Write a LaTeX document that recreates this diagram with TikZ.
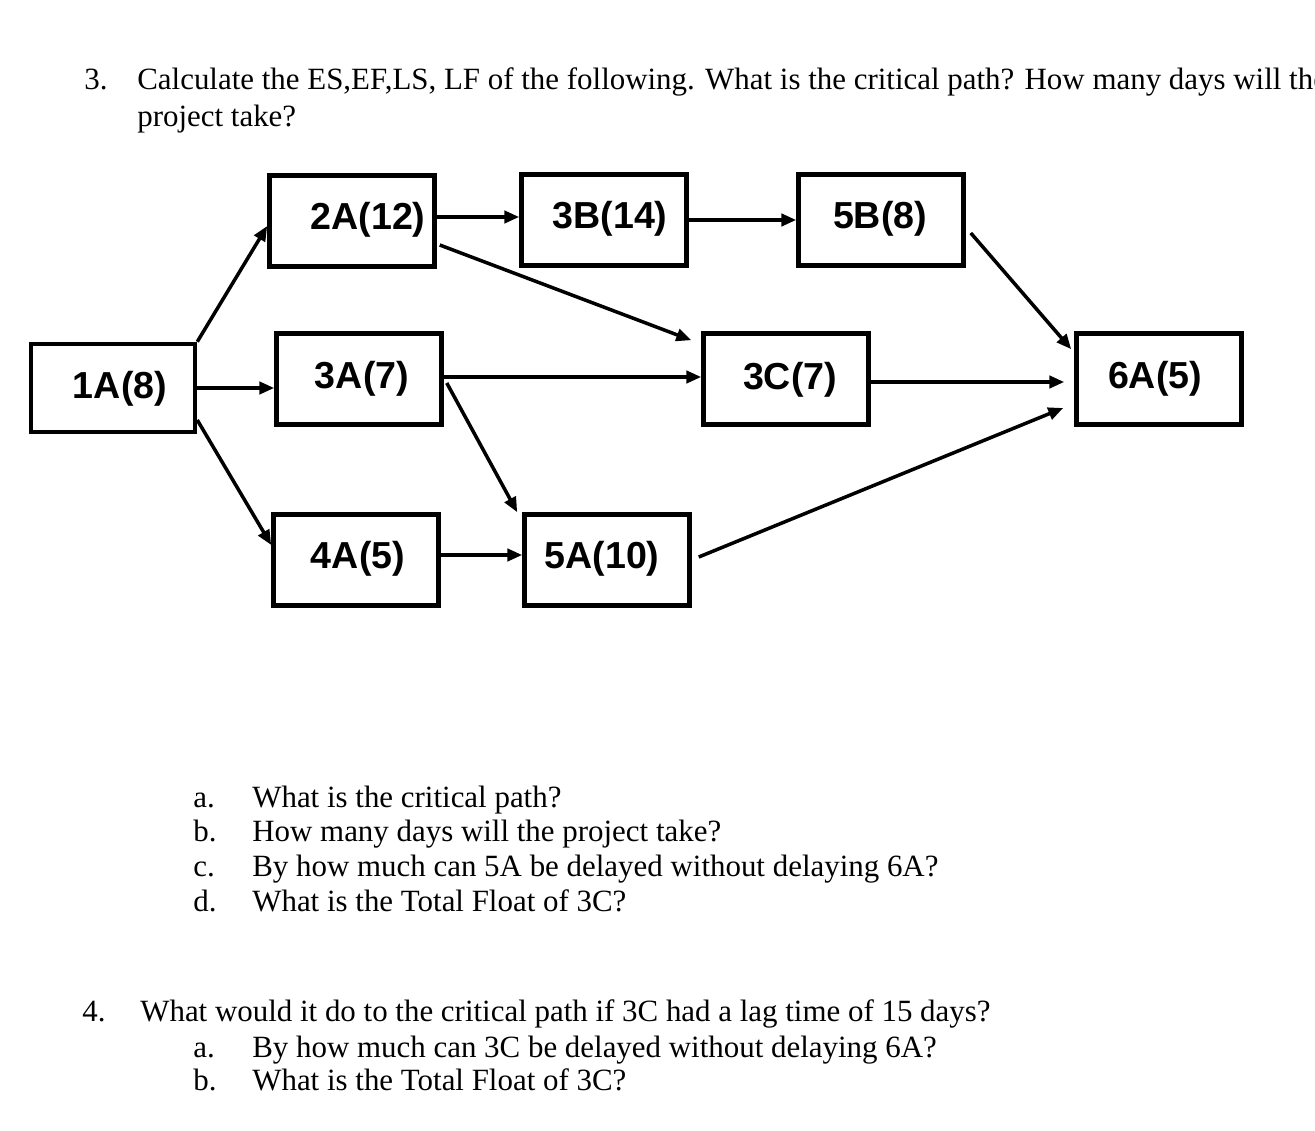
\documentclass[tikz,border=0pt]{standalone}
\usepackage{fontspec}
\setmainfont{Liberation Serif}
\newfontfamily\boxfont{Liberation Sans}
\usetikzlibrary{arrows.meta,calc}
\begin{document}
\begin{tikzpicture}[x=0.02cm,y=-0.02cm,
  actbox/.style={draw=black, line width=2.6pt, minimum width=3.3cm, minimum height=1.82cm, inner sep=0pt},
  acttext/.style={font=\boxfont\bfseries\fontsize{21.4pt}{24pt}\selectfont, inner sep=0pt},
  link/.style={line width=2pt, -{Triangle[length=8.5pt,width=7pt]}},
  qtext/.style={anchor=base west, inner sep=0pt, font=\fontsize{17.6pt}{21pt}\selectfont}]
\useasboundingbox (0,0) rectangle (1315,1131);
\fill[white] (0,0) rectangle (1315,1131);
\clip (0,0) rectangle (1315,1131);

% questions
\node[qtext] (n3) at (84,90) {3.};
\node[qtext] (q3l1) at (137,90) {Calculate the ES,EF,LS, LF of the following. What is the critical path? How many days will the};
\node[qtext] (q3l2) at (137,127) {project take?};

% boxes
\node[actbox, minimum width=3.28cm, minimum height=1.76cm] (b1A) at (113,388) {};
\node[actbox] (b2A) at (352,221) {};
\node[actbox] (b3B) at (604,220) {};
\node[actbox] (b5B) at (881,220) {};
\node[actbox] (b3A) at (359,379) {};
\node[actbox] (b3C) at (786,379) {};
\node[actbox] (b6A) at (1159,379) {};
\node[actbox] (b4A) at (356,560) {};
\node[actbox] (b5A) at (607,560) {};

\node[acttext] (t1A) at (120,389) {1A(8)};
\node[acttext] (t2A) at (368,220) {2A(12)};
\node[acttext] (t3B) at (610,219) {3B(14)};
\node[acttext] (t5B) at (880,219) {5B(8)};
\node[acttext] (t3A) at (362,379) {3A(7)};
\node[acttext] (t3C) at (790,380) {3C(7)};
\node[acttext] (t6A) at (1155,379) {6A(5)};
\node[acttext] (t4A) at (358,559) {4A(5)};
\node[acttext] (t5A) at (602,559) {5A(10)};

% connector points
\coordinate (s14) at ($(b1A.east)+(0,32)$);
\coordinate (e14) at ($(b4A.west)+(0,-15)$);
\coordinate (e12) at ($(b2A.west)+(0,5)$);
\coordinate (s23) at ($(b2A.east)+(0,-4)$);
\coordinate (s2c) at ($(b2A.east)+(3,24)$);
\coordinate (e2c) at ($(b3C.north west)+(-10,9)$);
\coordinate (s3c) at ($(b3A.east)+(0,-2)$);
\coordinate (s35) at ($(b3A.east)+(3,4)$);
\coordinate (e35) at ($(b5A.north west)+(-5,0)$);
\coordinate (s45) at ($(b4A.east)+(0,-5)$);
\coordinate (s56) at ($(b5A.east)+(7,-3)$);
\coordinate (e56) at ($(b6A.west)+(-11,29)$);
\coordinate (sc6) at ($(b3C.east)+(0,3)$);
\coordinate (ec6) at ($(b6A.west)+(-10,3)$);
\coordinate (sb6) at ($(b5B.east)+(5,13)$);
\coordinate (eb6) at ($(b6A.north west)+(-3,18)$);

% connectors
\draw[link] (b1A.north east) -- (e12);
\draw[link] (b1A.east) -- (b1A.east -| b3A.west);
\draw[link] (s14) -- (e14);
\draw[link] (s23) -- (s23 -| b3B.west);
\draw[link] (s2c) -- (e2c);
\draw[link] (b3B.east) -- (b5B.west);
\draw[link] (s3c) -- (s3c -| b3C.west);
\draw[link] (s35) -- (e35);
\draw[link] (s45) -- (s45 -| b5A.west);
\draw[link] (s56) -- (e56);
\draw[link] (sc6) -- (ec6);
\draw[link] (sb6) -- (eb6);

% sub-questions
\node[qtext] (l3a) at (193,807) {a.};
\node[qtext] (q3a) at (252,807) {What is the critical path?};
\node[qtext] (l3b) at (193,841) {b.};
\node[qtext] (q3b) at (252,841) {How many days will the project take?};
\node[qtext] (l3c) at (193,876) {c.};
\node[qtext] (q3c) at (252,876) {By how much can 5A be delayed without delaying 6A?};
\node[qtext] (l3d) at (193,911) {d.};
\node[qtext] (q3d) at (252,911) {What is the Total Float of 3C?};

\node[qtext] (n4) at (82,1021) {4.};
\node[qtext] (q4) at (140,1021) {What would it do to the critical path if 3C had a lag time of 15 days?};
\node[qtext] (l4a) at (193,1057) {a.};
\node[qtext] (q4a) at (252,1057) {By how much can 3C be delayed without delaying 6A?};
\node[qtext] (l4b) at (193,1090) {b.};
\node[qtext] (q4b) at (252,1090) {What is the Total Float of 3C?};
\end{tikzpicture}
\end{document}
